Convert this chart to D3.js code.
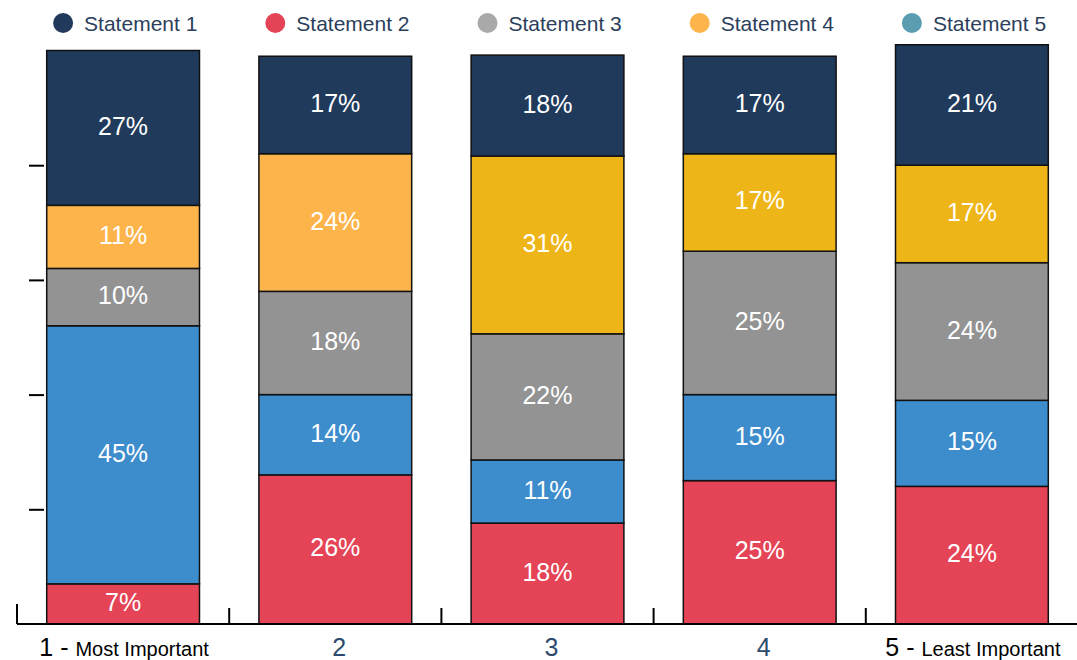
<!DOCTYPE html>
<html lang="en">
<head>
<meta charset="utf-8">
<title>Statement ranking</title>
<script src="https://cdn.jsdelivr.net/npm/d3@7"></script>
<style>
  body { margin: 0; background: #fff; }
  svg text { font-family: Arial, "Liberation Sans", Helvetica, sans-serif; }
</style>
</head>
<body>
<svg id="chart" width="1077" height="660" font-family="Arial, 'Liberation Sans', sans-serif"></svg>
<script>
var ranks = ["1", "2", "3", "4", "5"];
var rankNotes = ["Most Important", "", "", "", "Least Important"];
var statements = ["Statement 1", "Statement 2", "Statement 3", "Statement 4", "Statement 5"];
// % of answers at each rank, one array per statement
var statement1 = [27, 17, 17.6, 17, 21];
var statement2 = [7, 26, 17.6, 25, 24];
var statement3 = [10, 18, 22, 25, 24];
var statement4 = [11, 24, 31, 17, 17];
var statement5 = [45, 14, 11, 15, 15];
var yTicks = [20, 40, 60, 80];

// bottom -> top order of the stack
var stackOrder = ["Statement 2", "Statement 5", "Statement 3", "Statement 4", "Statement 1"];

var legendColor = {
  "Statement 1": "#213a5c", "Statement 2": "#e44456", "Statement 3": "#a9a9a9",
  "Statement 4": "#fdb44b", "Statement 5": "#5a9db1"
};
var barColor = {
  "Statement 1": "#1f3a5b", "Statement 2": "#e44456", "Statement 3": "#939393",
  "Statement 5": "#3d8ccc"
};
var yellowByRank = ["#fdb44b", "#fdb44b", "#eeb518", "#eeb518", "#eeb518"];

var series = [statement1, statement2, statement3, statement4, statement5];
var table = ranks.map(function(r, i) {
  var row = { rank: r };
  statements.forEach(function(s, j) { row[s] = series[j][i]; });
  return row;
});

var svg = d3.select("#chart");

var x = d3.scaleBand().domain(ranks).range([17, 1078]).padding(0);
var barW = x.bandwidth() * 0.72;
var y = d3.scaleLinear().domain([0, 100]).range([624, 50.5]);

var stacked = d3.stack().keys(stackOrder)(table);

var layer = svg.append("g").selectAll("g")
  .data(stacked)
  .enter().append("g");

layer.selectAll("rect")
  .data(function(s) { s.forEach(function(d) { d.key = s.key; }); return s; })
  .enter().append("rect")
    .attr("x", function(d) { return x(d.data.rank) + (x.bandwidth() - barW) / 2; })
    .attr("y", function(d) { return y(d[1]); })
    .attr("width", barW)
    .attr("height", function(d) { return y(d[0]) - y(d[1]); })
    .attr("fill", function(d, i) {
      return d.key == "Statement 4" ? yellowByRank[i] : barColor[d.key];
    })
    .attr("stroke", "#111")
    .attr("stroke-width", 1.5);

layer.selectAll("text")
  .data(function(s) { return s; })
  .enter().append("text")
    .attr("x", function(d) { return x(d.data.rank) + x.bandwidth() / 2; })
    .attr("y", function(d) { return y((d[0] + d[1]) / 2) - 2; })
    .attr("text-anchor", "middle")
    .attr("dominant-baseline", "central")
    .attr("fill", "#fff")
    .style("font-size", "25px")
    .text(function(d) { return Math.round(d[1] - d[0]) + "%"; });

// y ticks, no labels, no domain line
var yAxis = svg.append("g")
  .attr("transform", "translate(44,0)")
  .call(d3.axisLeft(y).tickValues(yTicks).tickSize(15).tickFormat(""));
yAxis.select(".domain").remove();
yAxis.selectAll("line").attr("stroke", "#000").attr("stroke-width", 2);

// x axis line with ticks between categories
var xAxis = svg.append("g");
xAxis.append("line")
  .attr("x1", 17).attr("x2", 1078)
  .attr("y1", 624).attr("y2", 624)
  .attr("stroke", "#000").attr("stroke-width", 2);
xAxis.selectAll("line.tick")
  .data(ranks)
  .enter().append("line")
    .attr("class", "tick")
    .attr("x1", function(d) { return x(d); })
    .attr("x2", function(d) { return x(d); })
    .attr("y1", function(d, i) { return i == 0 ? 604 : 608; })
    .attr("y2", 624)
    .attr("stroke", "#000").attr("stroke-width", 2);

var xl = xAxis.selectAll("text")
  .data(ranks)
  .enter().append("text")
    .attr("x", function(d, i) { return x(d) + x.bandwidth() / 2 + (rankNotes[i] ? 1 : 4); })
    .attr("y", 656)
    .attr("text-anchor", "middle")
    .attr("fill", function(d, i) { return rankNotes[i] ? "#000" : "#2d4a6e"; });
xl.append("tspan")
  .style("font-size", "25px")
  .text(function(d, i) { return rankNotes[i] ? d + " - " : d; });
xl.append("tspan")
  .style("font-size", "20px")
  .text(function(d, i) { return rankNotes[i]; });

// legend, one item above each bar
var legend = svg.append("g").selectAll("g")
  .data(statements)
  .enter().append("g")
    .attr("transform", function(d, i) { return "translate(" + (x(ranks[i]) + x.bandwidth() / 2) + ",23)"; });
legend.append("circle")
  .attr("cx", -60)
  .attr("r", 10)
  .attr("fill", function(d) { return legendColor[d]; });
legend.append("text")
  .attr("x", -39)
  .attr("dominant-baseline", "central")
  .attr("fill", "#2b3e5c")
  .style("font-size", "21px")
  .text(function(d) { return d; });
</script>
</body>
</html>
